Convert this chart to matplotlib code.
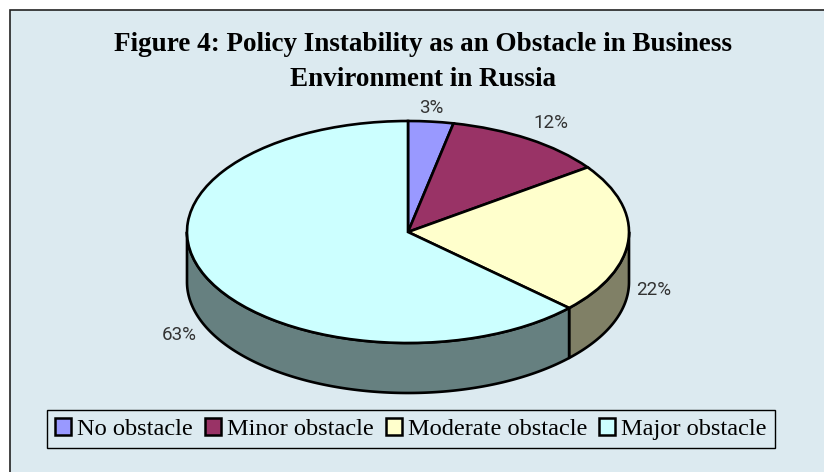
import numpy as np
import matplotlib
matplotlib.use("Agg")
import matplotlib.pyplot as plt
from matplotlib.patches import Rectangle, Polygon

W, H = 824, 472
categories = ["No obstacle", "Minor obstacle", "Moderate obstacle", "Major obstacle"]
values = [3.3, 11.8, 21.9, 63.0]
value_labels = ["3%", "12%", "22%", "63%"]
title_lines = "Figure 4: Policy Instability as an Obstacle in Business\nEnvironment in Russia"
colors = ["#9999FF", "#993366", "#FFFFCC", "#CCFFFF"]
wall_colors = ["#4D4D80", "#4D1A33", "#808066", "#668080"]
label_px = [(431, 108), (551, 123), (654, 290), (179, 335)]

BG = "#DCEAF0"
fig = plt.figure(figsize=(W / 100, H / 100), dpi=100, facecolor="white")

def fx(x): return x / W
def fy(y): return 1 - y / H

bg_ax = fig.add_axes([0, 0, 1, 1], zorder=0)
bg_ax.set_xlim(0, W); bg_ax.set_ylim(H, 0); bg_ax.axis("off")
bg_ax.add_patch(Rectangle((10, 10), 830, 480, facecolor=BG, edgecolor="#222222", linewidth=1.2, clip_on=True))

# Pie: unit circle mapped on to the ellipse
cx, cy, rx, ry, depth = 408, 232, 221, 111, 50
ax = fig.add_axes([fx(cx - rx), fy(cy + ry), 2 * rx / W, 2 * ry / H], zorder=1)
wedges, _ = ax.pie(values, colors=colors, startangle=90, counterclock=False, radius=1,
                   wedgeprops=dict(edgecolor="black", linewidth=1.9, clip_on=False, zorder=3))
ax.set_aspect("auto")
ax.set_xlim(-1, 1); ax.set_ylim(-1, 1)

d = depth / ry
cum = np.cumsum([0] + values) / sum(values) * 360
for a0, a1, wc in zip(cum[:-1], cum[1:], wall_colors):
    lo, hi = max(a0, 90), min(a1, 270)
    if hi <= lo:
        continue
    t = np.radians(np.linspace(lo, hi, 200))
    x, y = np.sin(t), np.cos(t)
    pts = np.r_[np.c_[x, y], np.c_[x[::-1], y[::-1] - d]]
    ax.add_patch(Polygon(pts, closed=True, facecolor=wc, edgecolor="black", linewidth=1.9,
                         clip_on=False, zorder=2, joinstyle="round"))

# Text
txt = fig.add_axes([0, 0, 1, 1], zorder=2)
txt.set_xlim(0, W); txt.set_ylim(H, 0); txt.axis("off")
txt.text(423, 62, title_lines, ha="center", va="center", family="Liberation Serif",
         fontweight="bold", fontsize=19.55, linespacing=1.5, color="black")
for (x, y), s in zip(label_px, value_labels):
    txt.text(x, y, s, ha="center", va="center", family="Roboto", fontsize=13.5, color="#333333")

leg = fig.legend(wedges, categories, ncol=4, loc="center", bbox_to_anchor=(fx(411), fy(429)),
                 prop=dict(family="Liberation Serif", size=17.55), frameon=True, fancybox=False,
                 facecolor=BG, edgecolor="black", framealpha=1, handlelength=0.65, handleheight=0.68,
                 handletextpad=0.25, columnspacing=0.5, borderpad=0.33, borderaxespad=0)
leg.set_zorder(5)
leg.get_frame().set_linewidth(1.0)
for h in leg.legend_handles:
    h.set_linewidth(1.8)

fig.savefig("out.png", dpi=100, facecolor="white")
